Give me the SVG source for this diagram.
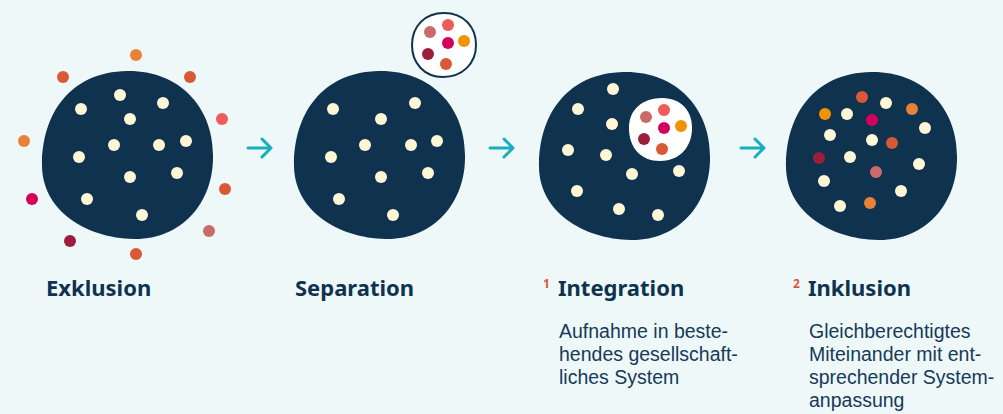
<svg xmlns="http://www.w3.org/2000/svg" width="1003" height="414" viewBox="0 0 1003 414">
<defs>
<style>
.blob{fill:#0f334f}
.c{fill:#fef6d4}
.o{fill:#e8823a}
.r{fill:#d95836}
.p{fill:#ef5a5a}
.m{fill:#d4005e}
.d{fill:#9b1f3a}
.s{fill:#c96b6b}
.y{fill:#f39200}
.lbl{font-family:"Noto Sans","DejaVu Sans",sans-serif;font-weight:700;font-size:22px;fill:#0f334f}
.sup{font-family:"Noto Sans","DejaVu Sans",sans-serif;font-weight:700;font-size:12px;fill:#d95836}
.body{font-family:"Liberation Sans",Arial,sans-serif;font-size:19.5px;fill:#163a58}
.arr{fill:none;stroke:#17afbd;stroke-width:3;stroke-linecap:round;stroke-linejoin:round}
</style>
<path id="blobshape" d="M 0,-84 C 50,-85 86,-50 86,0 C 87,50 52,85 7,84 C -42,83 -85,55 -85,10 C -85,-40 -58,-83 0,-84 Z"/>
</defs>
<rect width="1003" height="414" fill="#eef8f9"/>

<g id="exklusion">
<use href="#blobshape" class="blob" transform="translate(127,155)"/>
<g class="c">
<circle cx="120" cy="95" r="6"/><circle cx="81" cy="109" r="6"/><circle cx="163" cy="103" r="6"/><circle cx="130" cy="119" r="6"/>
<circle cx="114" cy="145" r="6"/><circle cx="159" cy="145" r="6"/><circle cx="186" cy="141" r="6"/><circle cx="79" cy="157" r="6"/>
<circle cx="130" cy="177" r="6"/><circle cx="177" cy="173" r="6"/><circle cx="87" cy="199" r="6"/><circle cx="142" cy="215" r="6"/>
</g>
<circle class="o" cx="136" cy="55" r="6"/>
<circle class="r" cx="63" cy="77" r="6"/>
<circle class="r" cx="190" cy="77" r="6"/>
<circle class="p" cx="222" cy="119" r="6"/>
<circle class="o" cx="24" cy="141" r="6"/>
<circle class="r" cx="225" cy="189" r="6"/>
<circle class="m" cx="32" cy="199" r="6"/>
<circle class="s" cx="209" cy="231" r="6"/>
<circle class="d" cx="70" cy="241" r="6"/>
<circle class="r" cx="136" cy="254" r="6"/>
<text class="lbl" x="46" y="296">Exklusion</text>
</g>

<g id="separation">
<use href="#blobshape" class="blob" transform="translate(379,155)"/>
<g class="c">
<circle cx="333" cy="109" r="6"/><circle cx="415" cy="103" r="6"/><circle cx="381" cy="119" r="6"/><circle cx="365" cy="145" r="6"/>
<circle cx="411" cy="145" r="6"/><circle cx="437" cy="141" r="6"/><circle cx="331" cy="157" r="6"/><circle cx="381" cy="177" r="6"/>
<circle cx="428" cy="173" r="6"/><circle cx="339" cy="199" r="6"/><circle cx="393" cy="215" r="6"/>
</g>
<path d="M 444,13 C 464,13 476,27 476,45 C 476,64 462,77 443,77 C 424,77 412,63 412,45 C 412,26 425,13 444,13 Z" fill="#ffffff" stroke="#0f334f" stroke-width="2"/>
<circle class="s" cx="430" cy="32" r="6"/>
<circle class="p" cx="448" cy="25" r="6"/>
<circle class="m" cx="448" cy="43" r="6"/>
<circle class="y" cx="464" cy="41" r="6"/>
<circle class="d" cx="428" cy="54" r="6"/>
<circle class="r" cx="446" cy="64" r="6"/>
<text class="lbl" x="295" y="296">Separation</text>
</g>

<g id="integration">
<use href="#blobshape" class="blob" transform="translate(624,156)"/>
<g class="c">
<circle cx="613" cy="89" r="6"/><circle cx="578" cy="109" r="6"/><circle cx="612" cy="124" r="6"/><circle cx="568" cy="150" r="6"/>
<circle cx="606" cy="155" r="6"/><circle cx="632" cy="174" r="6"/><circle cx="679" cy="171" r="6"/><circle cx="577" cy="191" r="6"/>
<circle cx="619" cy="209" r="6"/><circle cx="658" cy="215" r="6"/>
</g>
<path d="M 662,98 C 682,98 693,112 692,130 C 691,149 678,161 660,161 C 641,161 629,148 629,128 C 629,109 643,98 662,98 Z" fill="#ffffff"/>
<circle class="s" cx="646" cy="117" r="6"/>
<circle class="p" cx="664" cy="110" r="6"/>
<circle class="m" cx="664" cy="128" r="6"/>
<circle class="y" cx="681" cy="126" r="6"/>
<circle class="d" cx="644" cy="139" r="6"/>
<circle class="r" cx="662" cy="149" r="6"/>
<text class="sup" x="543" y="288">1</text>
<text class="lbl" x="558" y="296">Integration</text>
<text class="body" x="559" y="338">Aufnahme in beste-</text>
<text class="body" x="559" y="361">hendes gesellschaft-</text>
<text class="body" x="559" y="384">liches System</text>
</g>

<g id="inklusion">
<use href="#blobshape" class="blob" transform="translate(871,156)"/>
<g class="c">
<circle cx="886" cy="103" r="6"/><circle cx="847" cy="114" r="6"/><circle cx="925" cy="128" r="6"/><circle cx="830" cy="135" r="6"/>
<circle cx="872" cy="140" r="6"/><circle cx="850" cy="157" r="6"/><circle cx="919" cy="164" r="6"/><circle cx="824" cy="181" r="6"/>
<circle cx="901" cy="191" r="6"/><circle cx="840" cy="206" r="6"/>
</g>
<circle class="r" cx="862" cy="97" r="6"/>
<circle class="o" cx="912" cy="109" r="6"/>
<circle class="y" cx="825" cy="114" r="6"/>
<circle class="m" cx="872" cy="120" r="6"/>
<circle class="r" cx="892" cy="143" r="6"/>
<circle class="d" cx="819" cy="158" r="6"/>
<circle class="s" cx="876" cy="172" r="6"/>
<circle class="o" cx="870" cy="203" r="6"/>
<text class="sup" x="793" y="288">2</text>
<text class="lbl" x="808" y="296">Inklusion</text>
<text class="body" x="809" y="338">Gleichberechtigtes</text>
<text class="body" x="809" y="361">Miteinander mit ent-</text>
<text class="body" x="809" y="384">sprechender System-</text>
<text class="body" x="809" y="407">anpassung</text>
</g>

<g id="connectors">
<path class="arr" d="M 248,148 H 271 M 262,139 L 271,148 L 262,157"/>
<path class="arr" d="M 490,148 H 513 M 504,139 L 513,148 L 504,157"/>
<path class="arr" d="M 741,148 H 764 M 755,139 L 764,148 L 755,157"/>
</g>
</svg>
